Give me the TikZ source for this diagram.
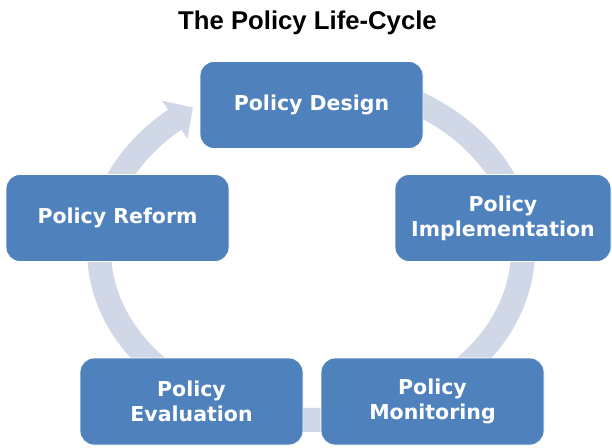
\documentclass[tikz,border=0pt]{standalone}
\usepackage{fontspec}
\setmainfont{DejaVu Sans}
\newfontfamily\titlefont{Liberation Sans}
\usetikzlibrary{calc}

\definecolor{stageblue}{RGB}{79,129,189}
\definecolor{ringgrey}{RGB}{208,216,232}

\tikzset{
  stagebox/.style={
    rectangle, rounded corners=14pt, fill=stageblue, draw=white, line width=0.8pt,
    minimum width=223, minimum height=87, inner sep=0pt,
    align=center, text=white,
    font=\fontsize{20.5}{25}\selectfont\bfseries
  },
  ringband/.style={draw=ringgrey, line width=24pt},
  ringhead/.style={fill=ringgrey},
  titletext/.style={font=\titlefont\fontsize{25.7}{30}\selectfont\bfseries, inner sep=0pt}
}

\begin{document}
\begin{tikzpicture}[x=1pt, y=-1pt]
  \useasboundingbox (0,0) rectangle (612,447);

  % title
  \node[titletext, anchor=base] (title) at (307.5,29.5) {The Policy Life-Cycle};

  % cycle ring: elliptical band running clockwise, ending in an arrow head
  \draw[ringband] plot[domain=-232:95, samples=220, variable=\t]
    ({311+212*cos(\t)}, {250-170*sin(\t)});
  \coordinate (headtip) at (192.9,107.5);
  \coordinate (headA) at (161.9,100.7);
  \coordinate (headB) at (187.5,138.9);
  \fill[ringhead] (headA) -- (headtip) -- (headB) -- cycle;

  % stages
  \node[stagebox] (design) at (311.5,105) {Policy Design};
  \node[stagebox, minimum width=216] (implement) at (503,218) {Policy\\Implementation};
  \node[stagebox] (monitor) at (432.5,401.5) {Policy\\Monitoring};
  \node[stagebox] (evaluate) at (191.5,401.5) {Policy\\Evaluation};
  \node[stagebox] (reform) at (117.5,218) {Policy Reform};
\end{tikzpicture}
\end{document}
